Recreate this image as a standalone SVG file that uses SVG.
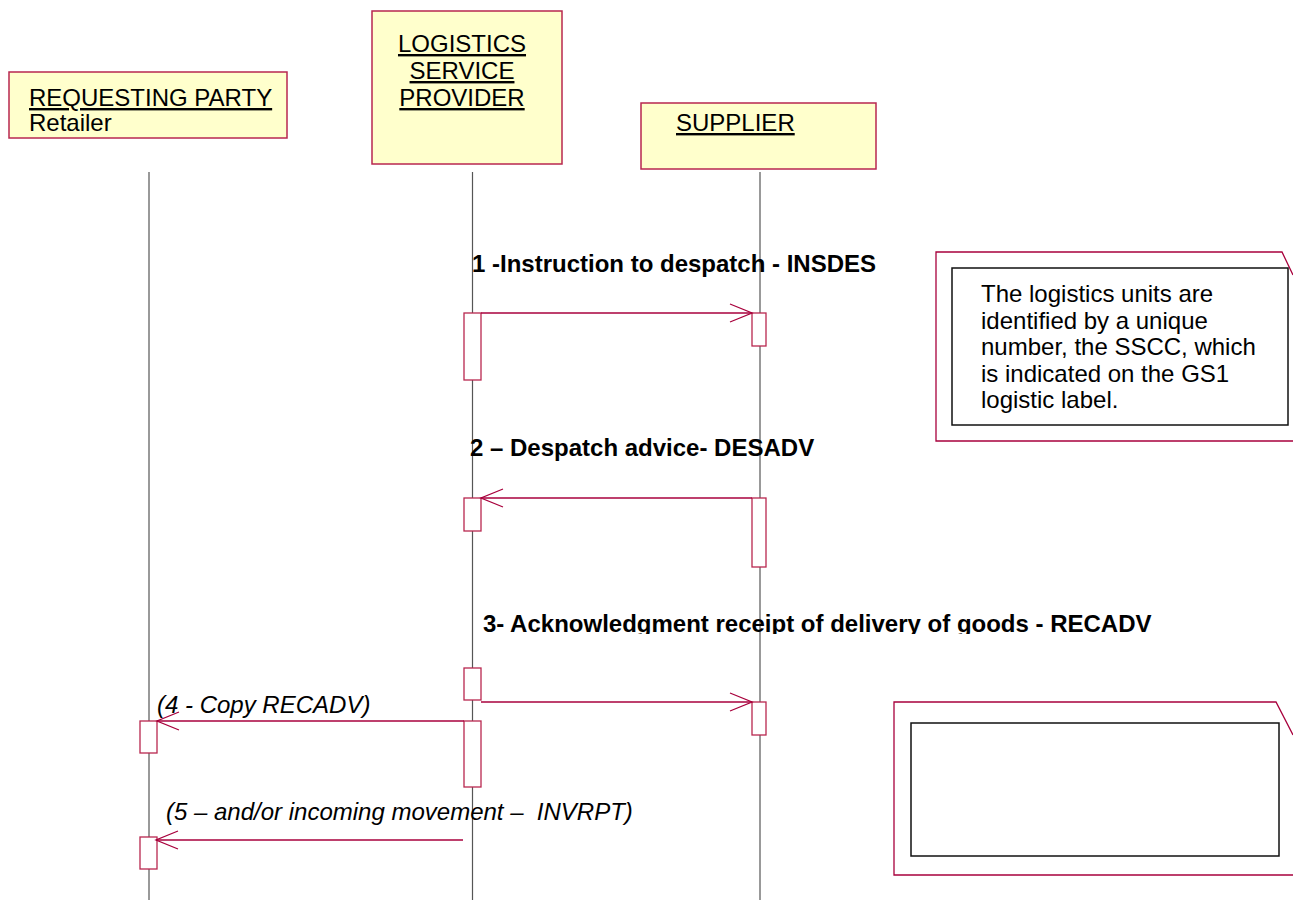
<svg xmlns="http://www.w3.org/2000/svg" width="1293" height="900" viewBox="0 0 1293 900">
  <style>
    .actor { fill: #ffffcc; stroke: #b8274f; stroke-width: 1.5; }
    .actor-name { font-family: "Liberation Sans", Arial, sans-serif; font-size: 24px; fill: #000; text-decoration: underline; }
    .plain { font-family: "Liberation Sans", Arial, sans-serif; font-size: 24px; fill: #000; }
    .lifeline { stroke: #555; stroke-width: 1.2; fill: none; }
    .act { fill: #fff; stroke: #b8274f; stroke-width: 1.3; }
    .msg { stroke: #a8003c; stroke-width: 1.3; fill: none; }
    .msg-label { font-family: "Liberation Sans", Arial, sans-serif; font-size: 24px; font-weight: bold; fill: #000; }
    .msg-italic { font-family: "Liberation Sans", Arial, sans-serif; font-size: 24px; font-style: italic; fill: #000; white-space: pre; }
    .note-outer { fill: none; stroke: #a8003c; stroke-width: 1.3; }
    .note-inner { fill: #fff; stroke: #111; stroke-width: 1.5; }
  </style>
  <defs>
    <marker id="open-arrow" markerUnits="userSpaceOnUse" markerWidth="30" markerHeight="24" refX="0" refY="0" viewBox="-24 -12 30 24" orient="auto" overflow="visible">
      <path d="M -22 -9 L 0 0 L -22 9" fill="none" stroke="#a8003c" stroke-width="1.3"/>
    </marker>
    <clipPath id="label3-clip">
      <rect x="0" y="560" width="1293" height="74"/>
    </clipPath>
  </defs>

  <rect width="1293" height="900" fill="#fff"/>

  <!-- lifelines -->
  <g id="lifelines">
    <line class="lifeline" x1="149" y1="172" x2="149" y2="900"/>
    <line class="lifeline" x1="472.5" y1="172" x2="472.5" y2="900"/>
    <line class="lifeline" x1="760" y1="172" x2="760" y2="900"/>
  </g>

  <!-- participants -->
  <g id="requesting-party">
    <rect class="actor" x="9" y="72" width="278" height="66"/>
    <text class="actor-name" x="29" y="106">REQUESTING PARTY</text>
    <text class="plain" x="29" y="131">Retailer</text>
  </g>
  <g id="logistics-service-provider">
    <rect class="actor" x="372" y="11" width="190" height="153"/>
    <text class="actor-name" x="462" y="52" text-anchor="middle">LOGISTICS</text>
    <text class="actor-name" x="462" y="79" text-anchor="middle">SERVICE</text>
    <text class="actor-name" x="462" y="106" text-anchor="middle">PROVIDER</text>
  </g>
  <g id="supplier">
    <rect class="actor" x="641" y="103" width="235" height="66"/>
    <text class="actor-name" x="676" y="131">SUPPLIER</text>
  </g>

  <!-- activation bars -->
  <g id="activations">
    <rect class="act" x="464" y="313" width="17" height="67"/>
    <rect class="act" x="752" y="313" width="14" height="33"/>
    <rect class="act" x="464" y="498" width="17" height="33"/>
    <rect class="act" x="752" y="498" width="14" height="69"/>
    <rect class="act" x="464" y="668" width="17" height="32"/>
    <rect class="act" x="752" y="702" width="14" height="33"/>
    <rect class="act" x="464" y="721" width="17" height="66"/>
    <rect class="act" x="140" y="721" width="17" height="32"/>
    <rect class="act" x="140" y="837" width="17" height="32"/>
  </g>

  <!-- messages -->
  <g id="connectors">
    <line class="msg" x1="481" y1="313" x2="752" y2="313" marker-end="url(#open-arrow)"/>
    <line class="msg" x1="752" y1="498" x2="481" y2="498" marker-end="url(#open-arrow)"/>
    <line class="msg" x1="481" y1="702" x2="752" y2="702" marker-end="url(#open-arrow)"/>
    <line class="msg" x1="464" y1="721" x2="157" y2="721" marker-end="url(#open-arrow)"/>
    <line class="msg" x1="463" y1="840" x2="156" y2="840" marker-end="url(#open-arrow)"/>
  </g>

  <g id="message-labels">
    <text class="msg-label" x="472" y="272">1 -Instruction to despatch - INSDES</text>
    <text class="msg-label" x="470" y="456">2 – Despatch advice- DESADV</text>
    <text class="msg-label" x="483" y="632" clip-path="url(#label3-clip)">3- Acknowledgment receipt of delivery of goods - RECADV</text>
    <text class="msg-italic" x="157" y="713">(4 - Copy RECADV)</text>
    <text class="msg-italic" x="166" y="820">(5 – and/or incoming movement –  INVRPT)</text>
  </g>

  <!-- notes -->
  <g id="note-sscc">
    <path class="note-outer" d="M 1293 441 L 936 441 L 936 252 L 1282 252 L 1293 275"/>
    <rect class="note-inner" x="952" y="268" width="336" height="157"/>
    <text class="plain">
      <tspan x="981" y="302">The logistics units are</tspan>
      <tspan x="981" y="328.5">identified by a unique</tspan>
      <tspan x="981" y="355">number, the SSCC, which</tspan>
      <tspan x="981" y="381.5">is indicated on the GS1</tspan>
      <tspan x="981" y="408">logistic label.</tspan>
    </text>
  </g>
  <g id="note-blank">
    <path class="note-outer" d="M 1293 875 L 894 875 L 894 702 L 1276 702 L 1293 735"/>
    <rect class="note-inner" x="911" y="723" width="368" height="133"/>
  </g>
</svg>
